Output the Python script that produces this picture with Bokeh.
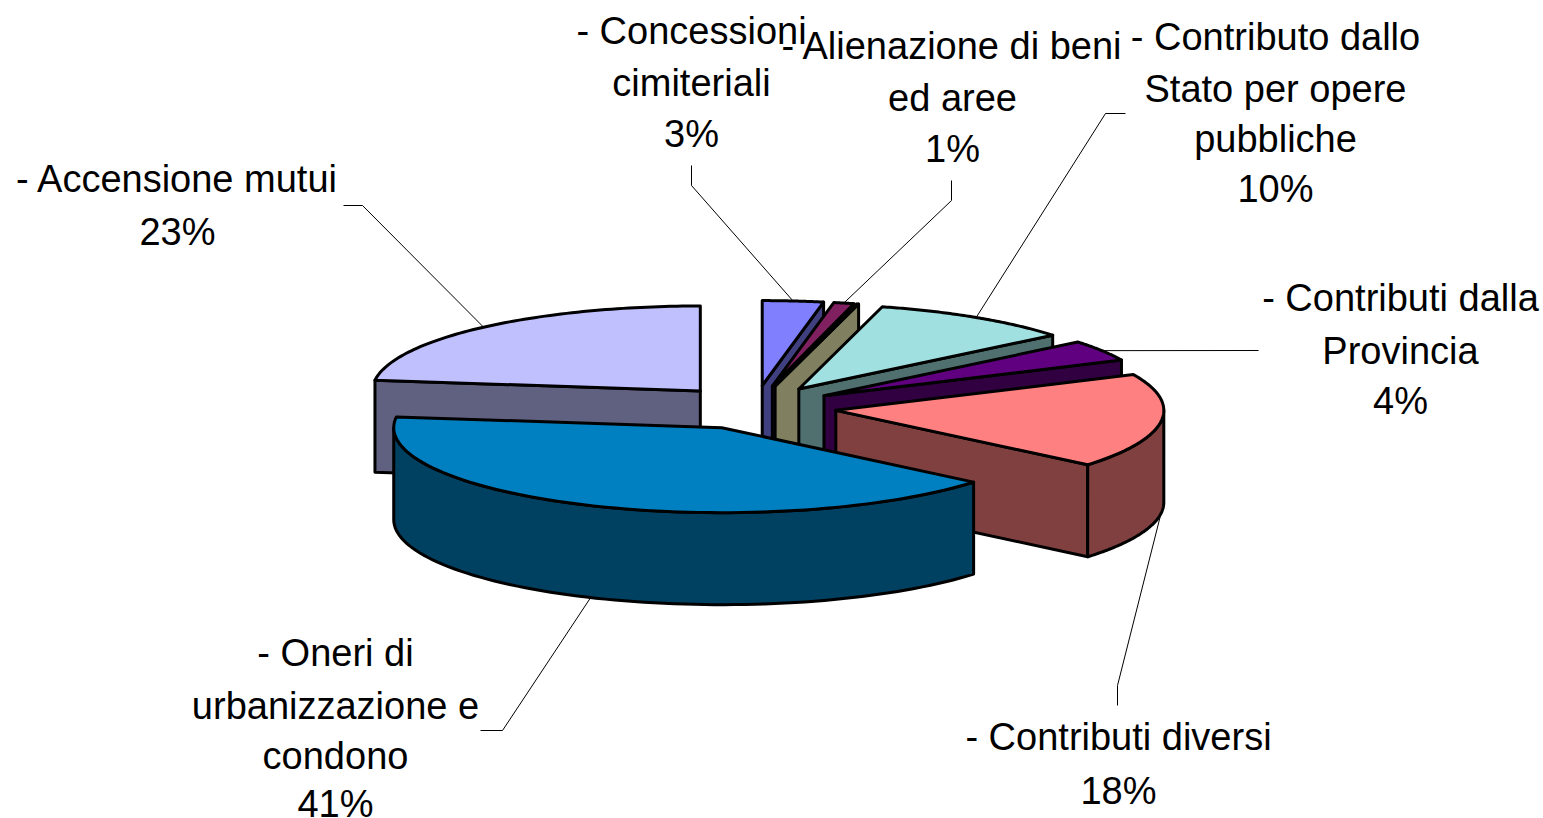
import numpy as np
from bokeh.plotting import figure
from bokeh.models import Range1d
from bokeh.core.properties import value
from bokeh.embed import file_html
from bokeh.resources import INLINE

# ---- data (clockwise from 12 o'clock) ----
categories = ["Concessioni cimiteriali", "Alienazione di beni ed aree", "Altro",
              "Contributo dallo Stato per opere pubbliche", "Contributi dalla Provincia",
              "Contributi diversi", "Oneri di urbanizzazione e condono", "Accensione mutui"]
shares = [3, 1, 0.1, 10, 4, 18, 41, 23]
top_colours = ["#8080FF", "#802060", "#FFFFC0", "#A0E0E0", "#600080", "#FF8080", "#0080C0", "#C0C0FF"]
wall_colours = ["#404080", "#803070", "#808060", "#507070", "#300040", "#804040", "#004060", "#606080"]
draw_order = [7, 0, 1, 2, 3, 4, 5, 6]

# one entry per slice: lines of its label (percent last), None when it has no label
label_lines = [
    ["- Concessioni", "cimiteriali", "3%"],
    ["- Alienazione di beni", "ed aree", "1%"],
    None,
    ["- Contributo dallo", "Stato per opere", "pubbliche", "10%"],
    ["- Contributi dalla", "Provincia", "4%"],
    ["- Contributi diversi", "18%"],
    ["- Oneri di", "urbanizzazione e", "condono", "41%"],
    ["- Accensione mutui", "23%"],
]

# ---- layout (page pixels) ----
label_x = [691, 952, None, 1275, 1400, 1118, 335, 177]
label_y = [[30, 82, 133], [45, 97, 148], None, [36, 88, 138, 188], [297, 350, 400],
           [736, 790], [652, 705, 755, 803], [178, 231]]
leader_elbows = [[(691, 165), (691, 185)], [(951, 180), (951, 200)], None,
                 [(1125, 113), (1105, 113)], [(1258, 350)], [(1117, 705), (1117, 685)],
                 [(480, 730), (502, 730)], [(343, 205), (362, 205)]]

CX, CY = 754, 407      # pie centre
RX, RY = 328, 85       # ellipse radii
EX, EY = 82, 22        # explosion distance
H = 92                 # extrusion depth

total = sum(shares)
edges = np.concatenate([[0], np.cumsum(shares)]) / total * 2 * np.pi


def apex(mid):
    return CX + EX * np.sin(mid), CY - EY * np.cos(mid)


def rim(ax, ay, ang):
    return ax + RX * np.sin(ang), ay - RY * np.cos(ang)


xs, ys, fills = [], [], []
for i in draw_order:
    a0, a1 = edges[i], edges[i + 1]
    ax, ay = apex((a0 + a1) / 2)
    # radial faces that look towards the viewer
    for ang, visible in ((a0, np.sin(a0) < -1e-6), (a1, np.sin(a1) > 1e-6)):
        if visible:
            rx, ry = rim(ax, ay, ang)
            xs.append([ax, rx, rx, ax])
            ys.append([ay, ry, ry + H, ay + H])
            fills.append(wall_colours[i])
    # outer wall: front half of the ellipse only
    w0, w1 = max(a0, np.pi / 2), min(a1, 3 * np.pi / 2)
    if w1 > w0:
        t = np.linspace(w0, w1, 80)
        rx, ry = rim(ax, ay, t)
        xs.append(list(rx) + list(rx[::-1]))
        ys.append(list(ry) + list((ry + H)[::-1]))
        fills.append(wall_colours[i])
    # top face
    t = np.linspace(a0, a1, 80)
    rx, ry = rim(ax, ay, t)
    xs.append([ax] + list(rx))
    ys.append([ay] + list(ry))
    fills.append(top_colours[i])

p = figure(width=1543, height=818, output_backend="svg", toolbar_location=None,
           x_range=Range1d(0, 1543), y_range=Range1d(818, 0),
           min_border=0, outline_line_color=None)
p.xaxis.visible = False
p.yaxis.visible = False
p.grid.visible = False

# leader lines: from the label elbow to the rim at the slice's middle angle
lx, ly = [], []
for i, elbows in enumerate(leader_elbows):
    if not elbows:
        continue
    mid = (edges[i] + edges[i + 1]) / 2
    ax, ay = apex(mid)
    rx, ry = rim(ax, ay, mid)
    if np.cos(mid) < 0:
        ry += H
    lx.append([e[0] for e in elbows] + [rx])
    ly.append([e[1] for e in elbows] + [ry])
p.multi_line(lx, ly, line_color="#000000", line_width=1)

p.patches(xs, ys, fill_color=fills, line_color="#000000", line_width=3, line_join="round")

tx, ty, tt = [], [], []
for i, lines in enumerate(label_lines):
    if lines is None:
        continue
    for line, y in zip(lines, label_y[i]):
        tx.append(label_x[i])
        ty.append(y)
        tt.append(line)
p.text(x=tx, y=ty, text=tt, text_align="center", text_baseline="middle",
       text_font=value("Liberation Sans"), text_font_size="38px", text_color="#000000")

open("out.html", "w").write(file_html(p, INLINE))
